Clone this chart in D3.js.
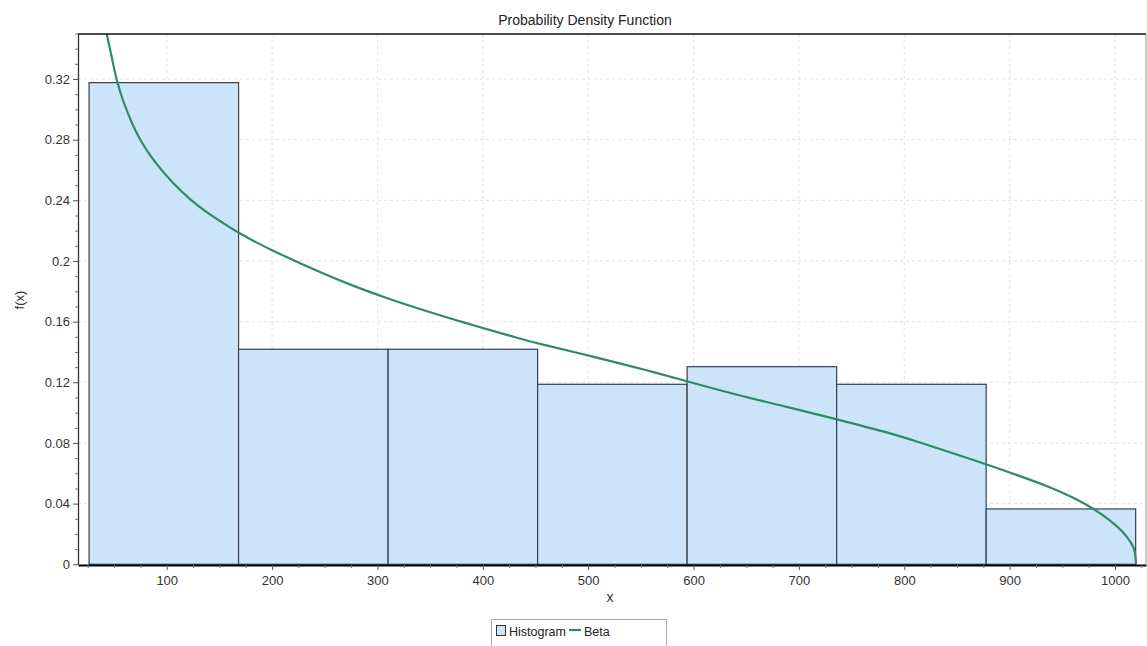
<!DOCTYPE html>
<html><head><meta charset="utf-8">
<script src="https://cdn.jsdelivr.net/npm/d3@7"></script>
<style>
body{margin:0;background:#fff}
text{font-family:"Liberation Sans",Arial,sans-serif}
</style>
</head><body>
<svg id="c" width="1147" height="646"></svg>
<script>
// ---- data ----
const binEdges   = [26.3,168.2,310.1,452.0,593.9,735.8,877.7,1019.6];
const binHeights = [0.3176,0.1418,0.1418,0.1187,0.1303,0.1187,0.0365];
const betaX = [43.1,47.8,52.6,58.8,66.8,74.7,84.2,93.7,106.3,122.1,138.0,153.7,168.0,194.9,255.0,274.0,302.4,340.4,368.9,400.5,429.0,451.2,492.3,539.7,561.8,595.1,641.0,688.4,735.9,783.3,814.9,827.5,877.5,906.7,938.3,960.4,979.4,995.2,1007.9,1015.8,1019.0,1019.9];
const betaY = [0.3497,0.3347,0.3182,0.3050,0.2908,0.2798,0.2695,0.2610,0.2510,0.2405,0.2320,0.2250,0.2186,0.2084,0.1896,0.1845,0.1770,0.1682,0.1622,0.1556,0.1501,0.1457,0.1391,0.1308,0.1268,0.1204,0.1116,0.1039,0.0956,0.0872,0.0803,0.0775,0.0661,0.0589,0.0510,0.0440,0.0369,0.0292,0.0215,0.0138,0.0094,0.0];
const xTicks = [100,200,300,400,500,600,700,800,900,1000];
const yTicks = [0,0.04,0.08,0.12,0.16,0.2,0.24,0.28,0.32];
const yTickLabels = ["0","0.04","0.08","0.12","0.16","0.2","0.24","0.28","0.32"];
const title = "Probability Density Function";
const xLabel = "x", yLabel = "f(x)";
const legendItems = ["Histogram","Beta"];

// ---- layout ----
const L=78, R=1146, T=34, B=564.3;
const svg = d3.select("#c");
const x = d3.scaleLinear().domain([15.8,1029.4]).range([L,R]);
const y = d3.scaleLinear().domain([0,0.35]).range([B,33.5]);

// grid
const g = svg.append("g");
g.selectAll(".vg").data(xTicks).join("line")
  .attr("x1",d=>x(d)).attr("x2",d=>x(d)).attr("y1",T).attr("y2",B)
  .attr("stroke","#e2e2e2").attr("stroke-dasharray","3,3");
g.selectAll(".hg").data(yTicks.slice(1)).join("line")
  .attr("x1",L).attr("x2",R).attr("y1",d=>y(d)).attr("y2",d=>y(d))
  .attr("stroke","#e2e2e2").attr("stroke-dasharray","3,3");

// bars
const bins = binHeights.map((h,i)=>({x0:binEdges[i],x1:binEdges[i+1],h}));
svg.append("g").selectAll("rect").data(bins).join("rect")
  .attr("x",d=>x(d.x0)).attr("width",d=>x(d.x1)-x(d.x0))
  .attr("y",d=>y(d.h)).attr("height",d=>y(0)-y(d.h))
  .attr("fill","#cce4fa").attr("stroke","#3a3f4a").attr("stroke-width",1.2);

// curve
svg.append("clipPath").attr("id","clp").append("rect")
  .attr("x",L).attr("y",T).attr("width",R-L).attr("height",B-T+1);
const pts = betaX.map((v,i)=>[v,betaY[i]]);
svg.append("path").datum(pts)
  .attr("clip-path","url(#clp)")
  .attr("d",d3.line().x(d=>x(d[0])).y(d=>y(d[1])).curve(d3.curveBasis))
  .attr("fill","none").attr("stroke","#2f8a68").attr("stroke-width",2.2);

// frame
svg.append("line").attr("x1",L).attr("x2",R).attr("y1",T).attr("y2",T)
  .attr("stroke","#111").attr("stroke-width",1.5);
svg.append("line").attr("x1",R).attr("x2",R).attr("y1",T).attr("y2",B)
  .attr("stroke","#999").attr("stroke-width",1);

const FONT = "Liberation Sans, Arial, sans-serif";
// y axis
const yMinor = d3.range(0,0.3501,0.01).filter(v=>!yTicks.some(t=>Math.abs(t-v)<1e-6));
const yAx = svg.append("g").attr("transform",`translate(${L},0)`)
  .call(d3.axisLeft(y).tickValues(yTicks).tickSize(5).tickSizeOuter(0)
    .tickFormat((d,i)=>yTickLabels[i]));
yAx.select(".domain").attr("stroke","#333").attr("stroke-width",1.3);
yAx.selectAll(".tick line").attr("stroke","#555");
yAx.selectAll("text").attr("font-size",13).attr("fill","#333").attr("font-family",FONT);
svg.append("g").attr("transform",`translate(${L},0)`)
  .call(d3.axisLeft(y).tickValues(yMinor).tickSize(3).tickFormat(""))
  .call(s=>s.select(".domain").remove())
  .selectAll("line").attr("stroke","#777");

// x axis
const xMinor = d3.range(25,1030,25).filter(v=>v%100!==0);
const xAx = svg.append("g").attr("transform",`translate(0,${B+0.7})`)
  .call(d3.axisBottom(x).tickValues(xTicks).tickSize(5).tickSizeOuter(0).tickFormat(d3.format("d")));
xAx.select(".domain").attr("stroke","#000").attr("stroke-width",2.2);
xAx.selectAll(".tick line").attr("stroke","#555");
xAx.selectAll("text").attr("font-size",13).attr("fill","#333").attr("dy","0.9em").attr("font-family",FONT);
svg.append("g").attr("transform",`translate(0,${B+0.7})`)
  .call(d3.axisBottom(x).tickValues(xMinor).tickSize(3).tickFormat(""))
  .call(s=>s.select(".domain").remove())
  .selectAll("line").attr("stroke","#777");

// titles
svg.append("text").attr("x",585).attr("y",25).attr("text-anchor","middle")
  .attr("font-size",14).attr("fill","#222").text(title);
svg.append("text").attr("x",610).attr("y",602).attr("text-anchor","middle")
  .attr("font-size",14).attr("fill","#333").text(xLabel);
svg.append("text").attr("transform","translate(24,300) rotate(-90)").attr("text-anchor","middle")
  .attr("font-size",13).attr("fill","#333").text(yLabel);

// legend
const lg = svg.append("g");
lg.append("rect").attr("x",491.5).attr("y",619.5).attr("width",175).attr("height",40)
  .attr("fill","#fff").attr("stroke","#aaa");
lg.append("rect").attr("x",496.5).attr("y",625.5).attr("width",9).attr("height",10)
  .attr("fill","#cce4fa").attr("stroke","#333");
lg.append("text").attr("x",509).attr("y",636).attr("font-size",12.5).attr("fill","#222").text(legendItems[0]);
lg.append("line").attr("x1",569).attr("x2",581).attr("y1",630).attr("y2",630)
  .attr("stroke","#2f8a68").attr("stroke-width",2.2);
lg.append("text").attr("x",584).attr("y",636).attr("font-size",12.5).attr("fill","#222").text(legendItems[1]);
</script>
</body></html>
